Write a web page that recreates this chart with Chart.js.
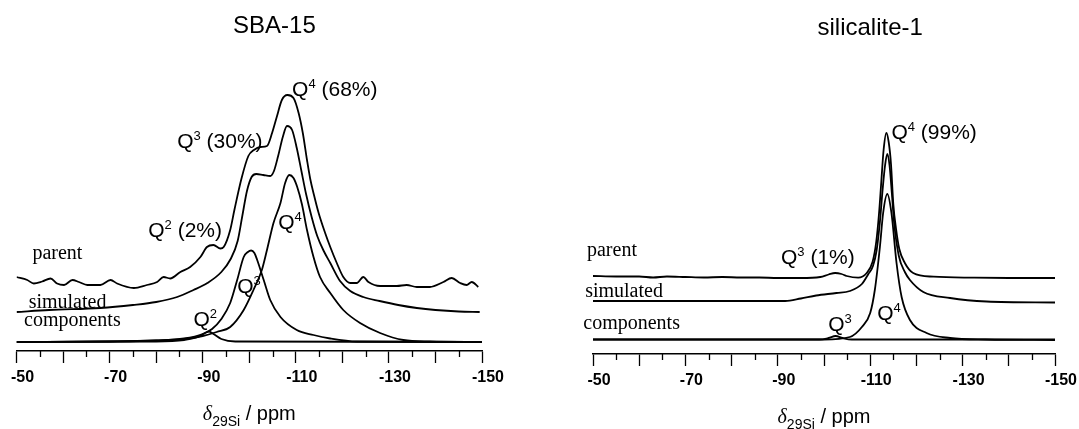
<!DOCTYPE html>
<html>
<head>
<meta charset="utf-8">
<script src="https://cdn.jsdelivr.net/npm/chart.js@4.4.1/dist/chart.umd.min.js"></script>
<style>
  html, body { margin: 0; padding: 0; background: #fff; }
  #wrap { position: relative; width: 1079px; height: 429px; }
  canvas { position: absolute; top: 0; }
  #left { left: 0; }
  #right { left: 540px; }
</style>
</head>
<body>
<div id="wrap">
  <canvas id="left" width="540" height="429"></canvas>
  <canvas id="right" width="539" height="429"></canvas>
</div>
<script>
const SANS = "'Liberation Sans', Arial, sans-serif";
const SERIF = "'Liberation Serif', 'Times New Roman', serif";

// SBA-15 spectra, chemical shift (ppm) and intensity (a.u., stacked with offsets)
const sbaParentPpm = [-50, -52.3, -53.7, -55.5, -57.3, -58.7, -60.2, -62, -63.4, -65.2, -68, -70.2, -71.6, -75.2, -78, -80.2, -81.6, -83, -85.2, -87.3, -89.5, -90.9, -92.3, -93.8, -94.5, -95.9, -96.8, -98.3, -99.8, -101, -102.4, -103.8, -104.9, -105.9, -107, -108.2, -109.5, -110.6, -111.5, -112.4, -113.1, -113.9, -114.9, -116.3, -117.4, -118.8, -120.2, -121.7, -123.1, -124.5, -125.6, -128.1, -131.7, -133.8, -136, -138.8, -141.7, -143.5, -145.3, -146.7, -147.8, -149.2];
const sbaParentInt = [74, 71, 67.5, 69.5, 72.5, 67.5, 66, 71, 69, 66, 66, 71, 67.5, 63, 66, 69, 74, 72.5, 79, 84, 94, 104, 106, 102.5, 104, 121, 141, 172, 195, 201, 204, 205, 218, 234, 251, 256, 253, 238, 218, 191, 172, 156, 138, 118, 104, 88, 74, 68, 68, 74, 69, 65, 65, 66, 64, 64, 69, 73, 68, 66, 69, 64];

const sbaSimPpm = [-50, -57, -68, -75, -80, -84.5, -88, -91, -94, -96, -97.5, -98.5, -99.5, -100.5, -101.5, -103, -104.5, -105.3, -106.2, -107.2, -108.1, -109.2, -110.2, -111.2, -112.2, -113.4, -114.6, -116, -117.4, -119.5, -121.7, -124.5, -128, -132, -136, -140, -145, -149.5];
const sbaSimInt = [39, 41, 43, 46, 49, 54, 61, 68, 79, 92, 110, 135, 160, 174, 177, 176, 175, 180, 195, 214, 225, 221, 203, 180, 157, 134, 115, 100, 88, 70, 60, 54, 50, 46, 43, 41, 39.5, 39];

const sbaQ4Ppm = [-50, -70, -80, -86, -90, -93, -95.9, -98.8, -100.9, -102.7, -103.8, -105.2, -106.7, -107.7, -108.6, -109.5, -110.3, -111.3, -112.4, -113.8, -115.2, -117.4, -120.2, -123.8, -128.1, -133.1, -138.8, -150];
const sbaQ4Int = [9, 9.5, 10.5, 12, 15, 19, 24, 41, 61, 81, 101, 128, 148, 168, 176, 173, 164, 147, 121, 94, 74, 58, 41, 28, 18, 11, 9.5, 9];

const sbaQ3Ppm = [-50, -70, -80, -86, -90, -92, -94, -95.9, -97.4, -98.8, -99.7, -100.4, -101.1, -101.7, -103.1, -104.5, -106.7, -110.2, -113.8, -117.4, -123.1, -150];
const sbaQ3Int = [9, 9.5, 10.5, 12.5, 17, 22, 32, 48, 71, 94, 99, 100.5, 98, 91, 71, 51, 34, 21, 16, 12.5, 9.5, 9];

const sbaQ2Ppm = [-50, -80, -86, -89, -90.5, -91.3, -92.3, -94, -97, -150];
const sbaQ2Int = [9, 9.5, 11, 14, 18, 19.5, 17, 12, 9.5, 9];

// silicalite-1 spectra
const siliParentPpm = [-50, -55, -60, -63, -66, -70, -74, -78, -82, -86, -90, -95, -99.2, -101, -102.4, -103.8, -104.9, -107.4, -109.2, -110.5, -111.3, -111.9, -112.4, -112.9, -113.5, -114, -114.5, -115, -115.6, -116.3, -117.5, -119.3, -123.7, -132.5, -140, -150];
const siliParentInt = [78, 77.5, 77.5, 76.5, 77.5, 77, 76.5, 77, 76.5, 76.5, 76, 76, 77, 79.5, 81, 80, 78, 76.3, 80.7, 92, 112, 140, 172, 204, 221, 212, 190, 150, 125, 105, 91, 81, 77.3, 76.3, 76, 76];

const siliSimPpm = [-50, -91.6, -95, -98.3, -102.7, -105.6, -108.2, -109.6, -110.6, -111.4, -112.1, -112.7, -113.2, -113.7, -114.2, -114.7, -115.2, -116.2, -117.5, -118.6, -121.5, -127.3, -135.2, -150];
const siliSimInt = [53, 53, 55.5, 58.5, 61, 63, 70, 80, 88, 104, 132, 165, 188, 200, 188, 160, 130, 98, 82, 74, 62, 56, 52.5, 51.5];

const siliQ4Ppm = [-50, -100, -105.6, -108.2, -110, -111, -112.1, -112.8, -113.7, -114.6, -115.7, -116.8, -118.6, -122.2, -127.3, -135, -150];
const siliQ4Int = [14.5, 14.5, 17, 27, 41, 64, 107, 141, 160, 141, 91, 57, 34, 21, 16, 14.5, 14];

const siliQ3Ppm = [-50, -99, -101, -102.5, -104, -106, -150];
const siliQ3Int = [14.5, 14.5, 16, 18, 16, 14.5, 14.5];

// axis ticks
const minorTicks = [-55, -65, -75, -85, -95, -105, -115, -125, -135, -145];
const axisTitleParts = [['δ', 'italic'], ['29Si', 'sub'], [' / ppm']];

// labels in data coordinates
const sbaNotes = [
  { x: -109.2, y: 255, parts: [['Q'], ['4', 'sup'], [' (68%)']] },
  { x: -84.5, y: 203, parts: [['Q'], ['3', 'sup'], [' (30%)']] },
  { x: -78.3, y: 114, parts: [['Q'], ['2', 'sup'], [' (2%)']] },
  { x: -106.2, y: 122, parts: [['Q'], ['4', 'sup']] },
  { x: -97.4, y: 58, parts: [['Q'], ['3', 'sup']] },
  { x: -88, y: 25, parts: [['Q'], ['2', 'sup']] },
  { x: -53.4, y: 92, parts: [['parent']], serif: true },
  { x: -52.6, y: 43, parts: [['simulated']], serif: true },
  { x: -51.6, y: 25, parts: [['components']], serif: true }
];
const siliNotes = [
  { x: -114.6, y: 215, parts: [['Q'], ['4', 'sup'], [' (99%)']] },
  { x: -90.7, y: 90, parts: [['Q'], ['3', 'sup'], [' (1%)']] },
  { x: -111.5, y: 34, parts: [['Q'], ['4', 'sup']] },
  { x: -100.9, y: 23, parts: [['Q'], ['3', 'sup']] },
  { x: -48.7, y: 98, parts: [['parent']], serif: true },
  { x: -48.3, y: 57, parts: [['simulated']], serif: true },
  { x: -47.9, y: 25, parts: [['components']], serif: true }
];

function toPoints(ppm, intensity) {
  return ppm.map((x, i) => ({ x: x, y: intensity[i] }));
}

function drawRich(ctx, x, y, parts, size, family, align) {
  const pieces = parts.map(p => {
    const kind = p[1] || '';
    let s = size, dy = 0, fam = family, style = '';
    if (kind === 'sup') { s = Math.round(size * 0.62); dy = -size * 0.38; }
    if (kind === 'sub') { s = Math.round(size * 0.7); dy = size * 0.28; }
    if (kind === 'italic') { style = 'italic '; fam = SERIF; }
    const font = style + s + 'px ' + fam;
    ctx.font = font;
    return { text: p[0], font: font, dy: dy, w: ctx.measureText(p[0]).width };
  });
  const total = pieces.reduce((a, p) => a + p.w, 0);
  let cx = align === 'center' ? x - total / 2 : x;
  ctx.textAlign = 'left';
  ctx.textBaseline = 'alphabetic';
  pieces.forEach(p => {
    ctx.font = p.font;
    ctx.fillText(p.text, cx, y + p.dy);
    cx += p.w;
  });
}

function panelText(opts) {
  return {
    id: 'panelText',
    afterDraw(chart) {
      const ctx = chart.ctx;
      const xs = chart.scales.x;
      const ys = chart.scales.y;
      ctx.save();
      ctx.fillStyle = '#000';
      ctx.strokeStyle = '#000';
      ctx.lineWidth = 1.3;
      minorTicks.forEach(v => {
        const px = Math.round(xs.getPixelForValue(v)) + 0.5;
        ctx.beginPath();
        ctx.moveTo(px, xs.top);
        ctx.lineTo(px, xs.top + 6);
        ctx.stroke();
      });
      drawRich(ctx, xs.getPixelForValue(opts.titleAt), opts.titleY, [[opts.title]], 24, SANS, 'center');
      opts.notes.forEach(n => {
        drawRich(ctx, xs.getPixelForValue(n.x), ys.getPixelForValue(n.y), n.parts,
          n.serif ? 20 : 21, n.serif ? SERIF : SANS, 'left');
      });
      drawRich(ctx, (chart.chartArea.left + chart.chartArea.right) / 2, xs.top + 69, axisTitleParts, 20, SANS, 'center');
      ctx.restore();
    }
  };
}

function line(ppm, intensity) {
  return { data: toPoints(ppm, intensity), borderColor: '#000', borderWidth: 1.8, pointRadius: 0, fill: false, cubicInterpolationMode: 'monotone' };
}

function makePanel(id, datasets, pad, plugin) {
  return new Chart(document.getElementById(id), {
    type: 'line',
    data: { datasets: datasets },
    options: {
      responsive: false,
      animation: false,
      layout: { padding: pad },
      plugins: { legend: { display: false }, tooltip: { enabled: false } },
      scales: {
        x: {
          type: 'linear',
          reverse: true,
          min: -150,
          max: -50,
          afterFit: s => { s.height = 40; },
          border: { display: true, color: '#000', width: 1.5 },
          grid: {
            drawOnChartArea: false,
            drawTicks: true,
            tickLength: 12,
            tickWidth: 1.3,
            tickColor: c => (c.tick && c.tick.value % 10 === 0 ? '#000' : 'rgba(0,0,0,0)')
          },
          ticks: {
            stepSize: 5,
            autoSkip: false,
            maxRotation: 0,
            padding: 5,
            labelOffset: 6,
            color: '#000',
            font: { family: SANS, size: 16, weight: 'bold' },
            callback: v => (v % 20 === -10 ? String(v) : '')
          }
        },
        y: { display: false, min: 0, max: 290 }
      }
    },
    plugins: [plugin]
  });
}

makePanel('left', [
  line(sbaParentPpm, sbaParentInt),
  line(sbaSimPpm, sbaSimInt),
  line(sbaQ4Ppm, sbaQ4Int),
  line(sbaQ3Ppm, sbaQ3Int),
  line(sbaQ2Ppm, sbaQ2Int)
], { left: 16, right: 58, top: 61, bottom: 38 },
  panelText({ title: 'SBA-15', titleAt: -105.4, titleY: 33, notes: sbaNotes }));

makePanel('right', [
  line(siliParentPpm, siliParentInt),
  line(siliSimPpm, siliSimInt),
  line(siliQ4Ppm, siliQ4Int),
  line(siliQ3Ppm, siliQ3Int)
], { left: 53, right: 24, top: 64, bottom: 35 },
  panelText({ title: 'silicalite-1', titleAt: -110, titleY: 35, notes: siliNotes }));
</script>
</body>
</html>
